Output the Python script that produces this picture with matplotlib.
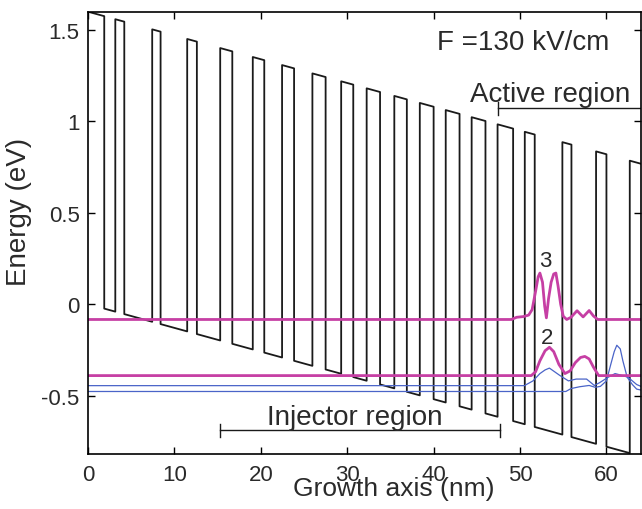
import numpy as np
import matplotlib
matplotlib.use('Agg')
import matplotlib.pyplot as plt

plt.rcParams['font.family'] = ['Liberation Sans', 'DejaVu Sans']

# Schichtfolge: linke / rechte Kante der Barrieren (nm)
barrier_left = [0.0, 3.16, 7.43, 11.48, 15.3, 19.07, 22.46, 25.97, 29.3, 32.25,
                35.45, 38.4, 41.4, 44.4, 47.4, 50.55, 54.9, 58.8, 62.7]
barrier_right = [1.88, 4.2, 8.4, 12.6, 16.7, 20.4, 23.85, 27.5, 30.7, 33.8,
                 36.9, 40.0, 43.0, 46.0, 49.2, 51.7, 55.95, 60.0, 64.5]
field_kV_cm = 130
band_offset = 1.6  # eV

# Zustaende (Energie + Wellenfunktion)
x_3 = [0, 49.0, 49.6, 50.4, 51.0, 51.4, 51.8, 52.1, 52.3, 52.6, 52.85, 53.05, 53.3,
       53.6, 53.9, 54.15, 54.4, 54.7, 55.0, 55.4, 55.9, 56.6, 57.3, 58.0, 58.5, 59.0, 64]
y_3 = [-0.084, -0.084, -0.072, -0.068, -0.06, -0.03, 0.07, 0.15, 0.17, 0.12, -0.01,
       -0.075, 0.03, 0.12, 0.165, 0.17, 0.10, 0.0, -0.066, -0.084, -0.072, -0.036,
       -0.07, -0.035, -0.065, -0.084, -0.084]

x_2 = [0, 51.3, 51.8, 52.3, 52.9, 53.4, 53.9, 54.5, 55.2, 55.8, 56.4, 57.0, 57.5,
       58.0, 58.5, 59.1, 64]
y_2 = [-0.391, -0.391, -0.37, -0.31, -0.255, -0.236, -0.26, -0.33, -0.38, -0.365,
       -0.32, -0.292, -0.286, -0.30, -0.345, -0.391, -0.391]

x_b1 = [0, 50.5, 51.5, 52.3, 52.9, 53.4, 54.0, 54.6, 55.6, 56.5, 57.7, 58.6, 59.2,
        60.2, 61.0, 61.8, 62.5, 63.5, 64]
y_b1 = [-0.446, -0.446, -0.42, -0.38, -0.36, -0.35, -0.37, -0.39, -0.42, -0.41,
        -0.41, -0.445, -0.43, -0.40, -0.38, -0.39, -0.40, -0.44, -0.45]

x_b2 = [0, 55.3, 55.9, 56.9, 58.0, 58.7, 59.3, 60.0, 60.5, 60.9, 61.2, 61.6, 61.9,
        62.4, 63.0, 63.5, 64]
y_b2 = [-0.478, -0.478, -0.462, -0.452, -0.445, -0.455, -0.45, -0.42, -0.33, -0.26,
        -0.225, -0.245, -0.31, -0.40, -0.44, -0.465, -0.47]

active_span = [47.4, 64.5]
injector_span = [15.3, 47.7]

xticks = [0, 10, 20, 30, 40, 50, 60]
yticks = [1.5, 1, 0.5, 0, -0.5]
ytick_labels = ['1.5', '1', '0.5', '0', '-0.5']

# Leitungsband aus Schichtfolge und Feld
slope = field_kV_cm * 1e-4  # eV/nm
x_cb, y_cb = [], []
for i, (l, r) in enumerate(zip(barrier_left, barrier_right)):
    if i > 0:
        x_cb.append(l)
        y_cb.append(-slope * l)
    x_cb += [l, r, r]
    y_cb += [band_offset - slope * l, band_offset - slope * r, -slope * r]

fig = plt.figure(figsize=(6.42, 5.1), dpi=100)
ax = fig.add_axes([88 / 642, 1 - 455 / 510, 553 / 642, 442.3 / 510])

ax.plot(x_cb, y_cb, color='#1a1a1a', lw=1.3)
ax.plot(x_b1, y_b1, color='#4a64c8', lw=0.9)
ax.plot(x_b2, y_b2, color='#4a64c8', lw=0.9)
ax.plot(x_2, y_2, color='#c63fa4', lw=2.0)
ax.plot(x_3, y_3, color='#c63fa4', lw=2.0)

tc = '#2a2a2a'
ax.text(40.35, 1.395, 'F =130 kV/cm', fontsize=20, color=tc, ha='left', va='baseline')
ax.text(44.2, 1.11, 'Active region', fontsize=20, color=tc, ha='left', va='baseline')
ax.plot(active_span, [1.072, 1.072], color='#1a1a1a', lw=1.0)
ax.plot([active_span[0]] * 2, [1.037, 1.107], color='#1a1a1a', lw=1.0)

ax.text(20.7, -0.655, 'Injector region', fontsize=20, color=tc, ha='left', va='baseline')
ax.plot(injector_span, [-0.69, -0.69], color='#1a1a1a', lw=1.0)
for xe in injector_span:
    ax.plot([xe, xe], [-0.725, -0.655], color='#1a1a1a', lw=1.0)

ax.text(52.9, 0.236, '3', fontsize=16, color=tc, ha='center', va='center')
ax.text(53.1, -0.18, '2', fontsize=16, color=tc, ha='center', va='center')

ax.set_xlim(0, 64)
ax.set_ylim(-0.82, 1.6)
ax.set_xticks(xticks)
ax.set_yticks(yticks)
ax.set_yticklabels(ytick_labels)
ax.tick_params(direction='in', length=5, width=1, top=True, right=True,
               labelsize=16, labelcolor=tc)
ax.tick_params(axis='x', pad=7)
ax.tick_params(axis='y', pad=6)
for s in ax.spines.values():
    s.set_linewidth(1.2)

ax.set_xlabel('Growth axis (nm)', fontsize=19, color=tc)
ax.xaxis.set_label_coords(0.552, -0.05)
ax.set_ylabel('Energy (eV)', fontsize=20, color=tc)
ax.yaxis.set_label_coords(-0.102, 0.549)

fig.savefig('out.png', dpi=100)
